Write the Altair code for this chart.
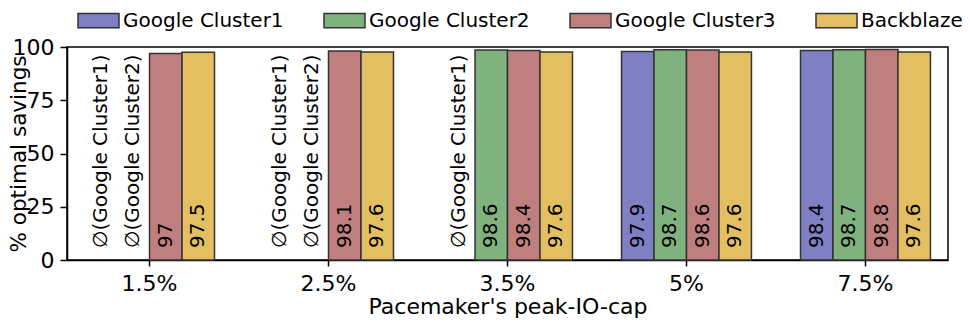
import altair as alt
import pandas as pd

caps = ["1.5%", "2.5%", "3.5%", "5%", "7.5%"]
series = ["Google Cluster1", "Google Cluster2", "Google Cluster3", "Backblaze"]
colors = ["#7f7fc4", "#7fb27f", "#c07f7f", "#e3bf61"]

cluster1 = [None, None, None, 97.9, 98.4]
cluster2 = [None, None, 98.6, 98.7, 98.7]
cluster3 = [97.0, 98.1, 98.4, 98.6, 98.8]
backblaze = [97.5, 97.6, 97.6, 97.6, 97.6]

values = dict(zip(series, [cluster1, cluster2, cluster3, backblaze]))

rows = []
for s in series:
    for c, v in zip(caps, values[s]):
        if v is None:
            rows.append({"cap": c, "series": s, "value": None, "label": f"\u2205({s})"})
        else:
            rows.append({"cap": c, "series": s, "value": v, "label": f"{v:g}"})
df = pd.DataFrame(rows)

FONT = "DejaVu Sans"

x_enc = alt.X("cap:N", sort=caps, scale=alt.Scale(paddingInner=0.274, paddingOuter=0.098),
              axis=alt.Axis(title="Pacemaker's peak-IO-cap", labelAngle=0, labelFontSize=22,
                            labelBaseline="alphabetic", labelPadding=24, tickSize=6,
                            titleFontSize=22, titleFontWeight="normal", titleBaseline="alphabetic",
                            titleY=53, titleAnchor="middle"))
xo_enc = alt.XOffset("series:N", sort=series, scale=alt.Scale(paddingInner=0, paddingOuter=0))

bars = alt.Chart(df).transform_filter("datum.value != null").mark_bar(
    stroke="#333333", strokeWidth=1.5, opacity=1
).encode(
    x=x_enc,
    xOffset=xo_enc,
    y=alt.Y("value:Q", scale=alt.Scale(domain=[0, 100], nice=False),
            axis=alt.Axis(title="% optimal savings", values=[0, 25, 50, 75, 100],
                          labelFontSize=22, labelPadding=6, tickSize=7, grid=False,
                          titleFontSize=21.5, titleFontWeight="normal", titleAngle=270,
                          titleBaseline="alphabetic", titleAlign="center",
                          titleX=-42, titleY=106.5)),
    color=alt.Color("series:N", sort=series, scale=alt.Scale(domain=series, range=colors),
                    legend=alt.Legend(title=None, orient="none", direction="horizontal",
                                      legendX=10, legendY=-48, columns=4, padding=0,
                                      symbolType="M-1,-0.35L1,-0.35L1,0.35L-1,0.35Z",
                                      symbolSize=1681, symbolStrokeColor="#333333",
                                      symbolStrokeWidth=1.5, symbolOpacity=1,
                                      labelFontSize=20, labelOffset=3, columnPadding=37,
                                      labelLimit=0, labelFont=FONT)),
)

labels = alt.Chart(df).mark_text(
    angle=270, align="left", baseline="middle", fontSize=20, color="black", dx=12
).encode(
    x=alt.X("cap:N", sort=caps),
    xOffset=alt.XOffset("series:N", sort=series),
    y=alt.datum(0),
    text="label:N",
)

chart = alt.layer(bars, labels).properties(
    width=881, height=213,
    autosize=alt.AutoSizeParams(type="none"),
    padding={"left": 59, "top": 39, "right": 14, "bottom": 58},
).configure(font=FONT).configure_view(
    stroke="black", strokeWidth=1.5
).configure_axis(
    domainColor="black", domainWidth=1.5, tickColor="black", tickWidth=1.5,
    labelColor="black", titleColor="black", labelFont=FONT, titleFont=FONT
)

chart.save("out.html", embed_options={"renderer": "svg", "actions": False})
